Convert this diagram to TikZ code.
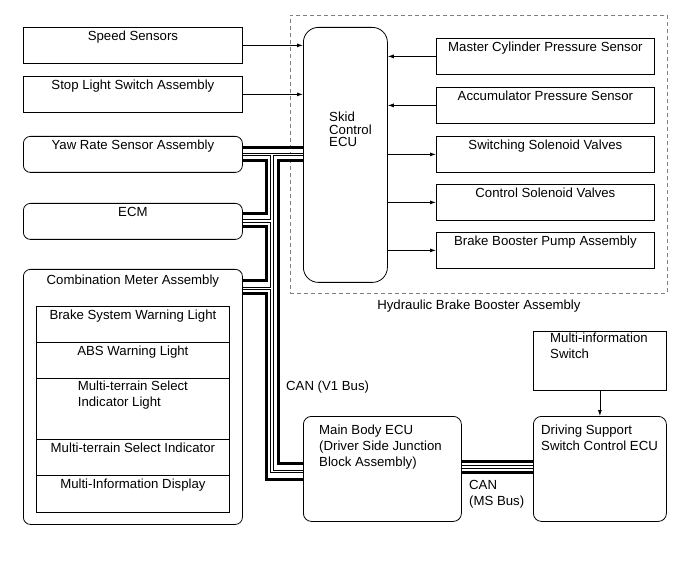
\documentclass[tikz,border=0pt]{standalone}
\usepackage{fontspec}
\setmainfont{Liberation Sans}
\usetikzlibrary{arrows.meta}

\begin{document}
\begin{tikzpicture}[x=1pt,y=-1pt,
    every node/.style={font=\fontsize{13.2}{16}\selectfont},
    box/.style={draw, line width=0.8pt, inner sep=0pt, anchor=north west,
      text height=13.5pt, text depth=22.5pt, minimum height=36pt},
    lbox/.style={box, minimum width=219pt},
    rbox/.style={box, minimum width=218pt},
    row/.style={box, minimum width=193pt, text height=13pt, text depth=23pt},
    txt/.style={inner sep=0pt, align=left},
    sig/.style={line width=0.8pt, -{Latex[length=6pt,width=4pt]}},
    hi/.style={line width=3pt},
    lo/.style={white, line width=1.6pt, preaction={draw, black, line width=3.6pt}}]

        \useasboundingbox (0,0) rectangle (691,564);

        \node[draw, gray, line width=0.8pt, dash pattern=on 4pt off 3pt, inner sep=0pt,
          anchor=north west, minimum width=377pt, minimum height=278pt] (hbba) at (290,15) {};
        \node[anchor=north, inner sep=0pt] (hbbat) at ([yshift=-5.8pt]hbba.south) {Hydraulic Brake Booster Assembly};

        % left column
        \node[lbox] (speed) at (23,27)  {Speed Sensors};
        \node[lbox] (stop)  at (23,76)  {Stop Light Switch Assembly};
        \node[lbox, rounded corners=7pt] (yaw) at (23,136) {Yaw Rate Sensor Assembly};
        \node[lbox, rounded corners=7pt] (ecm) at (23,203) {ECM};
        \node[lbox, rounded corners=7pt, minimum height=255pt, text height=15pt, text depth=240pt]
          (comb) at (23,269) {Combination Meter Assembly};

        \node[row] (r1) at (36,306) {Brake System Warning Light};
        \node[row] (r2) at (36,342) {ABS Warning Light};
        \node[row, minimum height=61pt] (r3) at (36,378) {};
        \node[txt, anchor=north] (r3t) at ([yshift=-2.5pt]r3.north) {Multi-terrain Select\\Indicator Light};
        \node[row] (r4) at (36,439) {Multi-terrain Select Indicator};
        \node[row, text depth=24pt] (r5) at (36,475) {Multi-Information Display};

        % skid control ecu and right column
        \node[box, rounded corners=15pt, minimum width=84pt, minimum height=255pt] (skid) at (303,27) {};
        \node[txt, anchor=north west, font=\fontsize{13.2}{12.8}\selectfont] (skidt) at (329,111.5) {Skid\\Control\\ECU};

        \node[rbox] (mcps) at (436,38)  {Master Cylinder Pressure Sensor};
        \node[rbox] (aps)  at (436,87)  {Accumulator Pressure Sensor};
        \node[rbox] (ssv)  at (436,136) {Switching Solenoid Valves};
        \node[rbox] (csv)  at (436,184) {Control Solenoid Valves};
        \node[rbox] (bbpa) at (436,232) {Brake Booster Pump Assembly};

        % bottom row
        \node[box, rounded corners=8pt, minimum width=158pt, minimum height=105pt] (main) at (303,416) {};
        \node[txt, anchor=north west] (maint) at (319,424.5) {Main Body ECU\\(Driver Side Junction\\Block Assembly)};
        \node[box, rounded corners=8pt, minimum width=133pt, minimum height=105pt] (dssc) at (533,416) {};
        \node[txt, anchor=north west] (dssct) at (541,424.5) {Driving Support\\Switch Control ECU};
        \node[box, minimum width=133pt, minimum height=59pt] (mis) at (533,331) {};
        \node[txt, anchor=north west] (mist) at (550,333) {Multi-information\\Switch};

        \node[txt, anchor=north west] (v1bus) at (286,381) {CAN (V1 Bus)};
        \node[txt, anchor=north west] (msbus) at (469,480) {CAN\\(MS Bus)};

        % signals
        \draw[sig] (speed.east) -- (speed.east -| skid.west);
        \draw[sig] (stop.east) -- (stop.east -| skid.west);
        \draw[sig] (mcps.west) -- (mcps.west -| skid.east);
        \draw[sig] (aps.west) -- (aps.west -| skid.east);
        \draw[sig] (ssv.west -| skid.east) -- (ssv.west);
        \draw[sig] (csv.west -| skid.east) -- (csv.west);
        \draw[sig] (bbpa.west -| skid.east) -- (bbpa.west);
        \draw[sig] (mis.south) -- (dssc.north);

        % CAN bus
        \coordinate (v1) at (266,0);
        \coordinate (v2) at (272,0);
        \coordinate (v3) at (278,0);
        \coordinate (ya) at ([yshift=-12pt]yaw.north east);
        \coordinate (yb) at ([yshift=-18.5pt]yaw.north east);
        \coordinate (yc) at ([yshift=-24.5pt]yaw.north east);
        \coordinate (ea) at ([yshift=-11pt]ecm.north east);
        \coordinate (eb) at ([yshift=-18pt]ecm.north east);
        \coordinate (ec) at ([yshift=-23.5pt]ecm.north east);
        \coordinate (ca) at ([yshift=-12pt]comb.north east);
        \coordinate (cb) at ([yshift=-19.5pt]comb.north east);
        \coordinate (cc) at ([yshift=-24.5pt]comb.north east);
        \coordinate (ma) at ([yshift=-47pt]main.north west);
        \coordinate (mb) at ([yshift=-55.5pt]main.north west);
        \coordinate (mc) at ([yshift=-63pt]main.north west);
        \coordinate (na) at ([yshift=-45pt]main.north east);
        \coordinate (nb) at ([yshift=-51pt]main.north east);
        \coordinate (nc) at ([yshift=-56pt]main.north east);

        \draw[hi] (ya) -- (ya -| skid.west);
        \draw[hi] (yc) -- (yc -| v1) -- (ea -| v1) -- (ea);
        \draw[hi] (ec) -- (ec -| v1) -- (ca -| v1) -- (ca);
        \draw[hi] (cc) -- (cc -| v1) -- (mc -| v1) -- (mc);
        \draw[hi] (yc -| skid.west) -- (yc -| v3) -- (ma -| v3) -- (ma);
        \draw[hi] (na) -- (na -| dssc.west);
        \draw[hi] (nc) -- (nc -| dssc.west);
        \draw[lo] (yb) -- (yb -| skid.west) (yb -| v2) -- (mb -| v2) -- (mb)
          (eb) -- (eb -| v2) (cb) -- (cb -| v2) (nb) -- (nb -| dssc.west);

      \end{tikzpicture}
\end{document}
